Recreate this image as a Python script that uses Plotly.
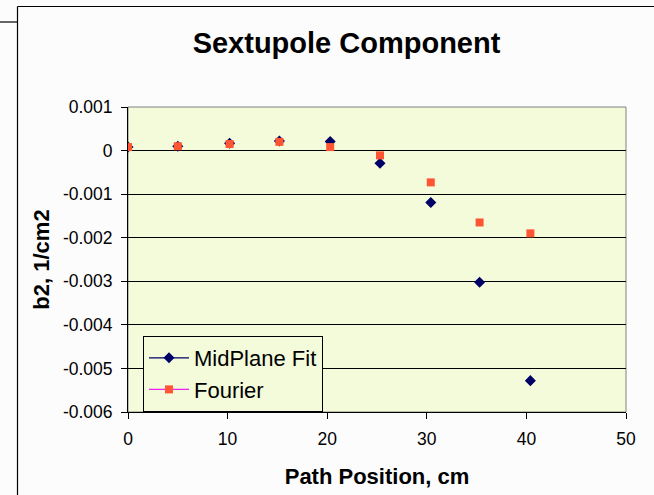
import plotly.graph_objects as go

# Measured sextupole component b2 along the path
path_pos = [0.0, 5.0, 10.2, 15.2, 20.3, 25.3, 30.4, 35.3, 40.4]
midplane_fit = [0.00008, 0.00010, 0.00017, 0.00022, 0.00021, -0.00029, -0.00119, -0.00302, -0.00528]
fourier = [0.00008, 0.00010, 0.00015, 0.00020, 0.00008, -0.00011, -0.00073, -0.00165, -0.00190]

x_ticks = [0, 10, 20, 30, 40, 50]
y_ticks = [0.001, 0, -0.001, -0.002, -0.003, -0.004, -0.005, -0.006]
y_tick_text = ["0.001", "0", "-0.001", "-0.002", "-0.003", "-0.004", "-0.005", "-0.006"]

W, H = 654, 495
L, R, T, B = 128, 28, 107, 83
FONT = "Liberation Sans, Arial, sans-serif"
NAVY = "#000066"
ORANGE = "#FF5533"
MAGENTA = "#EE22EE"
PLOT_BG = "#F3FBDA"

def px_x(p):
    return (p - L) / (W - L - R)

def px_y(p):
    return (H - B - p) / (H - T - B)

fig = go.Figure()

# data markers (no connecting lines)
fig.add_trace(go.Scatter(x=path_pos, y=midplane_fit, mode="markers", showlegend=False,
                         marker=dict(symbol="diamond", size=8.5, color=NAVY)))
fig.add_trace(go.Scatter(x=path_pos, y=fourier, mode="markers", showlegend=False,
                         marker=dict(symbol="square", size=8, color=ORANGE)))

# legend entries with line samples
fig.add_trace(go.Scatter(x=[None], y=[None], mode="lines+markers", name="MidPlane Fit",
                         line=dict(color=NAVY, width=1.3),
                         marker=dict(symbol="diamond", size=8.5, color=NAVY)))
fig.add_trace(go.Scatter(x=[None], y=[None], mode="lines+markers", name="Fourier",
                         line=dict(color=MAGENTA, width=1.3),
                         marker=dict(symbol="square", size=8, color=ORANGE)))

shapes = [
    # plot area border
    dict(type="rect", xref="paper", yref="paper", x0=0, y0=0, x1=1, y1=1,
         line=dict(color="#808080", width=1), layer="below"),
    # outer chart frame
    dict(type="line", xref="paper", yref="paper", x0=px_x(17.5), y0=px_y(6.5), x1=px_x(W + 5), y1=px_y(6.5),
         line=dict(color="black", width=1.2)),
    dict(type="line", xref="paper", yref="paper", x0=px_x(17.5), y0=px_y(6.5), x1=px_x(17.5), y1=px_y(H + 5),
         line=dict(color="black", width=1.2)),
    dict(type="line", xref="paper", yref="paper", x0=px_x(-5), y0=px_y(22), x1=px_x(17.5), y1=px_y(22),
         line=dict(color="black", width=1.2)),
]

fig.update_layout(
    width=W, height=H,
    margin=dict(l=L, r=R, t=T, b=B, pad=0),
    paper_bgcolor="#FCFCFC",
    plot_bgcolor=PLOT_BG,
    font=dict(family=FONT, color="black", size=18),
    title=dict(text="<b>Sextupole Component</b>", x=346.5 / W, xanchor="center",
               y=1 - 43 / H, yanchor="middle", font=dict(size=29, family=FONT, color="black")),
    xaxis=dict(range=[0, 50], tickvals=x_ticks, ticks="outside", ticklen=6, tickcolor="black",
               showline=True, linecolor="black", linewidth=1, showgrid=False, zeroline=False,
               ticklabelstandoff=5,
               tickfont=dict(size=17.5), title=dict(text="<b>Path Position, cm</b>", font=dict(size=22), standoff=20)),
    yaxis=dict(range=[-0.006, 0.001], tickvals=y_ticks, ticktext=y_tick_text, ticks="outside", ticklen=6,
               tickcolor="black", showline=True, linecolor="black", linewidth=1,
               showgrid=True, gridcolor="black", gridwidth=1, zeroline=False,
               ticklabelstandoff=5,
               tickfont=dict(size=17.5), title=dict(text="<b>b2, 1/cm2</b>", font=dict(size=22), standoff=7)),
    legend=dict(x=px_x(143), y=px_y(336), xanchor="left", yanchor="top",
                bgcolor=PLOT_BG, bordercolor="black", borderwidth=1, itemwidth=40,
                font=dict(size=22, family=FONT), tracegroupgap=0),
    shapes=shapes,
)

fig.write_html("out.html")
